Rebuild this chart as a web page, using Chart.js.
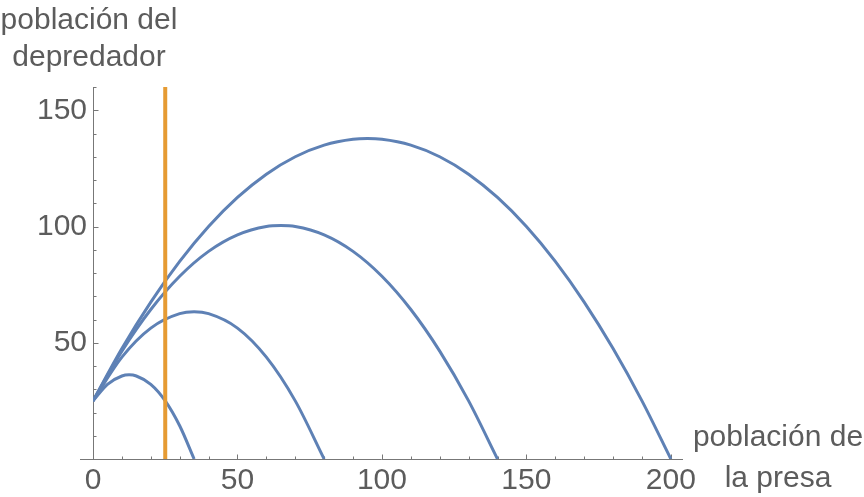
<!DOCTYPE html>
<html lang="es">
  <head>
    <meta charset="UTF-8" />
    <meta name="viewport" content="width=device-width, initial-scale=1.0" />
    <title>Depredador y presa</title>
    <script src="https://cdn.jsdelivr.net/npm/chart.js"></script>
    <style>
      body {
        margin: 0;
        background: #ffffff;
      }
    </style>
  </head>
  <body>
    <canvas id="grafica" width="864" height="497"></canvas>

    <script>
      // trayectorias: x = población de la presa, y = población del depredador
      const presa1 = [0, 5, 10, 12.5, 15, 20, 25, 30, 35];
      const depredador1 = [25, 32.1, 35.7, 36.2, 35.7, 32.1, 25, 14.3, 0];

      const presa2 = [0, 10, 20, 30, 35, 40, 50, 60, 70, 80];
      const depredador2 = [25, 43.8, 56.3, 62.5, 63.3, 62.5, 56.3, 43.8, 25, 0];

      const presa3 = [0, 10, 20, 30, 40, 50, 60, 65, 70, 80, 90, 100, 110, 120, 130, 140];
      const depredador3 = [25, 46.4, 64.3, 78.6, 89.3, 96.4, 100, 100.4, 100, 96.4, 89.3, 78.6, 64.3, 46.4, 25, 0];

      const presa4 = [0, 10, 20, 30, 40, 50, 60, 70, 80, 90, 95, 100, 110, 120, 130, 140, 150, 160, 170, 180, 190, 200];
      const depredador4 = [25, 47.5, 67.5, 85, 100, 112.5, 122.5, 130, 135, 137.5, 137.8, 137.5, 135, 130, 122.5, 112.5, 100, 85, 67.5, 47.5, 25, 0];

      // recta vertical naranja (presa = 25)
      const corteX = [25, 25];
      const corteY = [0, 160];

      // ejes
      const etiquetasX = [0, 50, 100, 150, 200];
      const etiquetasY = [50, 100, 150];
      const marcasX = [10, 20, 30, 40, 50, 60, 70, 80, 90, 100, 110, 120, 130, 140, 150, 160, 170, 180, 190, 200];
      const marcasY = [10, 20, 30, 40, 50, 60, 70, 80, 90, 100, 110, 120, 130, 140, 150, 160];

      const AZUL = "#5e81b5";
      const NARANJA = "#e69b33";
      const GRIS_TEXTO = "#5c5c5c";
      const GRIS_EJE = "#777777";
      const FUENTE = "'Liberation Sans', Arial, sans-serif";

      function puntos(xs, ys) {
        return xs.map((x, i) => ({ x: x, y: ys[i] }));
      }

      function curva(xs, ys) {
        return {
          data: puntos(xs, ys),
          showLine: true,
          borderColor: AZUL,
          borderWidth: 3,
          pointRadius: 0,
          cubicInterpolationMode: "monotone",
          fill: false,
        };
      }

      // ejes al estilo Mathematica: marcas hacia dentro y títulos en los extremos
      const ejes = {
        id: "ejes",
        beforeDatasetsDraw(chart) {
          const { ctx, chartArea, scales } = chart;
          const x = scales.x;
          const y = scales.y;
          const x0 = Math.round(x.getPixelForValue(0)) + 0.5;
          const y0 = Math.round(y.getPixelForValue(0)) + 0.5;
          ctx.save();
          ctx.strokeStyle = GRIS_EJE;
          ctx.lineWidth = 1;
          ctx.beginPath();
          ctx.moveTo(chartArea.left - 13, y0);
          ctx.lineTo(chartArea.right, y0);
          ctx.moveTo(x0, y0);
          ctx.lineTo(x0, chartArea.top);
          marcasX.forEach((v) => {
            const px = Math.round(x.getPixelForValue(v)) + 0.5;
            const largo = etiquetasX.includes(v) ? 5 : 3;
            ctx.moveTo(px, y0);
            ctx.lineTo(px, y0 - largo);
          });
          marcasY.forEach((v) => {
            const py = Math.round(y.getPixelForValue(v)) + 0.5;
            const largo = etiquetasY.includes(v) ? 5 : 3;
            ctx.moveTo(x0, py);
            ctx.lineTo(x0 + largo, py);
          });
          ctx.stroke();
          ctx.restore();
        },
        afterDraw(chart) {
          const { ctx, chartArea } = chart;
          ctx.save();
          ctx.fillStyle = GRIS_TEXTO;
          ctx.font = "30px " + FUENTE;
          ctx.textAlign = "center";
          ctx.textBaseline = "alphabetic";
          // título del eje vertical
          ctx.fillText("población del", chartArea.left - 4, chartArea.top - 58);
          ctx.fillText("depredador", chartArea.left - 4, chartArea.top - 21);
          // título del eje horizontal
          ctx.fillText("población de", chartArea.right + 95, chartArea.bottom - 13);
          ctx.fillText("la presa", chartArea.right + 95, chartArea.bottom + 28);
          ctx.restore();
        },
      };

      const ejeComun = {
        type: "linear",
        grid: { display: false, drawTicks: false },
        border: { display: false },
      };

      const grafica = new Chart(document.getElementById("grafica"), {
        type: "scatter",
        data: {
          datasets: [
            {
              data: puntos(corteX, corteY),
              showLine: true,
              borderColor: NARANJA,
              borderWidth: 4,
              pointRadius: 0,
            },
            curva(presa1, depredador1),
            curva(presa2, depredador2),
            curva(presa3, depredador3),
            curva(presa4, depredador4),
          ],
        },
        options: {
          responsive: false,
          animation: false,
          devicePixelRatio: 1,
          layout: { padding: { top: 87, right: 181, left: 0, bottom: 0 } },
          plugins: {
            legend: { display: false },
            tooltip: { enabled: false },
          },
          scales: {
            x: {
              ...ejeComun,
              min: 0,
              max: 204.2,
              ticks: {
                padding: 4,
                color: GRIS_TEXTO,
                maxRotation: 0,
                autoSkip: false,
                font: { family: FUENTE, size: 30 },
              },
              afterBuildTicks: (s) => {
                s.ticks = etiquetasX.map((v) => ({ value: v }));
              },
              afterFit: (s) => {
                s.height = 38;
              },
            },
            y: {
              ...ejeComun,
              min: 0,
              max: 160,
              ticks: {
                padding: 6,
                color: GRIS_TEXTO,
                autoSkip: false,
                font: { family: FUENTE, size: 30 },
              },
              afterBuildTicks: (s) => {
                s.ticks = etiquetasY.map((v) => ({ value: v }));
              },
              afterFit: (s) => {
                s.width = 93;
              },
            },
          },
        },
        plugins: [ejes],
      });
    </script>
  </body>
</html>
